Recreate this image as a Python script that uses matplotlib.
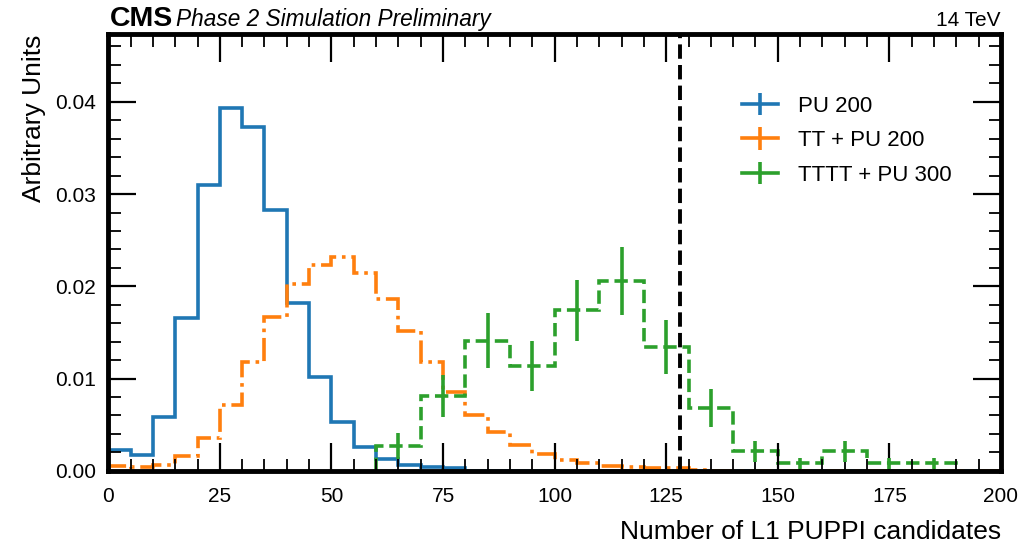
import numpy as np
import matplotlib
matplotlib.use("Agg")
import matplotlib.pyplot as plt
from matplotlib.lines import Line2D
from matplotlib.collections import LineCollection
from matplotlib.container import ErrorbarContainer
from matplotlib.ticker import MultipleLocator, FormatStrFormatter

# --- data ---
edges_5 = np.arange(0, 205, 5)
edges_10 = np.arange(60, 200, 10)

pu200 = [0.0022, 0.0017, 0.0058, 0.0166, 0.0310, 0.0393, 0.0373, 0.0283,
         0.0182, 0.0102, 0.0053, 0.0026, 0.0013, 0.0006, 0.0004, 0.0003] + [0.0] * 24

tt_pu200 = [0.0005, 0.0004, 0.0006, 0.0016, 0.0035, 0.0071, 0.0118, 0.0167,
            0.0203, 0.0223, 0.0232, 0.0214, 0.0186, 0.0152, 0.0118, 0.0085,
            0.0060, 0.0042, 0.0028, 0.0018, 0.0012, 0.0008, 0.0005, 0.0004,
            0.0003, 0.0003, 0.0001] + [0.0] * 13

tttt_pu300 = [0.0027, 0.0081, 0.0141, 0.0114, 0.0174, 0.0206, 0.0134,
              0.0068, 0.0021, 0.0008, 0.0021, 0.0008, 0.0008]
tttt_err = [0.0014, 0.0023, 0.0030, 0.0027, 0.0033, 0.0037, 0.0029,
            0.0021, 0.0011, 0.0006, 0.0011, 0.0006, 0.0006]

cut_value = 128

labels = ["PU 200", "TT + PU 200", "TTTT + PU 300"]
colors = ["#1f77b4", "#ff7f0e", "#2ca02c"]

plt.rcParams["font.family"] = ["Liberation Sans", "DejaVu Sans"]

fig = plt.figure(figsize=(10.35, 5.43), dpi=100)
ax = fig.add_axes([0.1046, 0.1330, 0.8625, 0.8035])

lw = 2.6
ax.stairs(pu200, edges_5, color=colors[0], lw=lw, ls="-")
ax.stairs(tt_pu200, edges_5, color=colors[1], lw=lw, ls="-.")
ax.stairs(tttt_pu300, edges_10, color=colors[2], lw=lw, ls="--")
centers = 0.5 * (edges_10[:-1] + edges_10[1:])
ax.errorbar(centers, tttt_pu300, yerr=tttt_err, fmt="none",
            ecolor=colors[2], elinewidth=lw)

ax.axvline(cut_value, color="black", ls="--", lw=2.8)

ax.set_xlim(0, 200)
ax.set_ylim(0, 0.0473)
ax.xaxis.set_major_locator(MultipleLocator(25))
ax.xaxis.set_minor_locator(MultipleLocator(5))
ax.yaxis.set_major_locator(MultipleLocator(0.01))
ax.yaxis.set_minor_locator(MultipleLocator(0.002))
ax.yaxis.set_major_formatter(FormatStrFormatter("%.2f"))

ax.tick_params(which="both", direction="in", top=True, right=True)
ax.tick_params(which="major", length=20, width=1.6, labelsize=15)
ax.tick_params(axis="x", which="major", pad=12)
ax.tick_params(axis="y", which="major", pad=9)
ax.tick_params(which="minor", length=9, width=1.3)
for s in ax.spines.values():
    s.set_linewidth(3.5)

ax.set_xlabel("Number of L1 PUPPI candidates", fontsize=19, loc="right",
              labelpad=10)
ax.set_ylabel("Arbitrary Units", fontsize=19, loc="top", labelpad=6)

# legend with cross-shaped handles
handles = []
for lab, c in zip(labels, colors):
    line = Line2D([], [], color=c, lw=lw)
    bar = LineCollection([], colors=c, linewidths=lw)
    handles.append(ErrorbarContainer((line, (), (bar,)), has_xerr=False,
                                     has_yerr=True, label=lab))
ax.legend(handles=handles, labels=labels, fontsize=16, frameon=False,
          loc="upper left", bbox_to_anchor=(0.688, 0.905), handlelength=1.6,
          handletextpad=0.9, labelspacing=0.6)

fig.text(0.1066, 0.952, "CMS", fontsize=20.5, fontweight="bold", va="baseline")
fig.text(0.170, 0.952, "Phase 2 Simulation Preliminary", fontsize=16.3,
         style="italic", va="baseline")
fig.text(0.9671, 0.952, "14 TeV", fontsize=15, ha="right", va="baseline")

fig.savefig("out.png", dpi=100)
